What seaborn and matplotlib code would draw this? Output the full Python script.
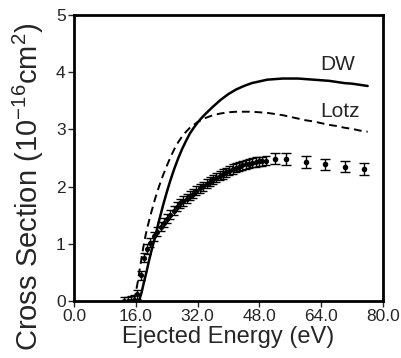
"""
Cross section vs ejected energy: DW and Lotz curves with measured points
"""

import numpy as np
import pandas as pd
import matplotlib
matplotlib.use('Agg')
import matplotlib.pyplot as plt
import seaborn as sns

# DW calculation (solid)
dw_energy = [16.8, 17.5, 18.0, 18.8, 19.5, 20.2, 21.0, 22.0, 23.0, 24.0, 25.0, 26.0,
             27.0, 28.0, 29.0, 30.0, 31.0, 32.0, 33.0, 34.0, 36.0, 38.0, 40.0, 42.0,
             44.0, 46.0, 48.0, 50.0, 52.0, 54.0, 56.0, 58.0, 60.0, 62.0, 64.0, 66.0,
             68.0, 70.0, 72.0, 74.0, 76.0]
dw_cross = [0.0, 0.15, 0.3, 0.52, 0.73, 0.92, 1.12, 1.4, 1.66, 1.9, 2.12, 2.32,
            2.5, 2.66, 2.8, 2.93, 3.03, 3.12, 3.2, 3.27, 3.4, 3.52, 3.62, 3.7,
            3.76, 3.81, 3.84, 3.87, 3.88, 3.89, 3.89, 3.89, 3.88, 3.87, 3.86, 3.85,
            3.83, 3.81, 3.8, 3.78, 3.76]

# Lotz formula (dashed)
lotz_energy = [15.5, 16.0, 16.5, 17.0, 17.5, 18.0, 18.5, 19.0, 20.0, 21.0, 22.0,
               23.0, 24.0, 25.0, 26.0, 27.0, 28.0, 29.0, 30.0, 31.0, 32.0, 34.0,
               36.0, 38.0, 40.0, 42.0, 44.0, 46.0, 48.0, 50.0, 52.0, 54.0, 56.0,
               58.0, 60.0, 62.0, 64.0, 66.0, 68.0, 70.0, 72.0, 74.0, 76.0]
lotz_cross = [0.0, 0.15, 0.33, 0.55, 0.76, 0.96, 1.14, 1.29, 1.55, 1.79, 2.0,
              2.19, 2.36, 2.52, 2.66, 2.78, 2.88, 2.96, 3.03, 3.08, 3.13, 3.2,
              3.25, 3.28, 3.3, 3.31, 3.31, 3.31, 3.3, 3.29, 3.27, 3.25, 3.22,
              3.19, 3.16, 3.14, 3.11, 3.08, 3.06, 3.03, 3.01, 2.98, 2.96]

# measured points, fine scan
fine_energy = [13.0, 13.9, 14.7, 15.6, 16.4, 17.3, 18.1, 19.0, 19.8, 20.7, 21.5,
               22.4, 23.2, 24.1, 24.9, 25.8, 26.6, 27.5, 28.3, 29.2, 30.0, 30.9,
               31.7, 32.6, 33.4, 34.3, 35.1, 36.0, 36.8, 37.7, 38.5, 39.4, 40.2,
               41.1, 41.9, 42.8, 43.6, 44.5, 45.3, 46.2, 47.0, 47.9, 48.7, 49.6]
fine_cross = [0.0, 0.0, 0.01, 0.02, 0.12, 0.45, 0.76, 0.91, 1.02, 1.13, 1.21,
              1.30, 1.37, 1.44, 1.51, 1.58, 1.65, 1.71, 1.75, 1.79, 1.84, 1.88,
              1.93, 1.97, 2.01, 2.05, 2.09, 2.13, 2.16, 2.19, 2.22, 2.25, 2.28,
              2.31, 2.33, 2.35, 2.37, 2.39, 2.40, 2.42, 2.43, 2.44, 2.44, 2.45]
fine_err = 0.08

# measured points, coarse scan
coarse_energy = [52.0, 54.8, 60.0, 65.0, 70.2, 75.1]
coarse_cross = [2.49, 2.48, 2.43, 2.39, 2.35, 2.31]
coarse_err = [0.1, 0.1, 0.1, 0.1, 0.1, 0.1]

x_ticks = [0.0, 16.0, 32.0, 48.0, 64.0, 80.0]
y_ticks = [0, 1, 2, 3, 4, 5]

sns.set_style('ticks')
plt.rcParams['font.family'] = ['Liberation Sans', 'DejaVu Sans']

fig = plt.figure(figsize=(4.02, 3.58), dpi=100)
ax = fig.add_axes([0.184, 0.159, 0.769, 0.799])

dw = pd.DataFrame({'energy': dw_energy, 'cross': dw_cross})
lotz = pd.DataFrame({'energy': lotz_energy, 'cross': lotz_cross})
fine = pd.DataFrame({'energy': fine_energy, 'cross': fine_cross})
coarse = pd.DataFrame({'energy': coarse_energy, 'cross': coarse_cross})

sns.lineplot(data=dw, x='energy', y='cross', color='black', lw=1.8, ax=ax)
sns.lineplot(data=lotz, x='energy', y='cross', color='black', lw=1.4,
             ax=ax, linestyle=(0, (4, 2.5)))

ax.errorbar(fine['energy'], fine['cross'], yerr=fine_err, fmt='none',
            ecolor='black', elinewidth=1.0, capsize=3, capthick=1.0)
ax.errorbar(coarse['energy'], coarse['cross'], yerr=coarse_err, fmt='none',
            ecolor='black', elinewidth=1.0, capsize=3.5, capthick=1.0)
sns.scatterplot(data=fine, x='energy', y='cross', color='black', s=14,
                edgecolor='black', linewidth=0, ax=ax)
sns.scatterplot(data=coarse, x='energy', y='cross', color='black', s=16,
                edgecolor='black', linewidth=0, ax=ax)

ax.text(63.8, 4.13, 'DW', fontsize=15, va='center', ha='left')
ax.text(63.8, 3.31, 'Lotz', fontsize=15, va='center', ha='left')

ax.set_xlim(0, 80)
ax.set_ylim(0, 5)
ax.set_xticks(x_ticks)
ax.set_xticklabels([f'{t:.1f}' for t in x_ticks])
ax.set_yticks(y_ticks)
ax.set_yticklabels([str(t) for t in y_ticks])
ax.tick_params(direction='out', length=4, width=1, labelsize=12.5, pad=2)
ax.set_xlabel('Ejected Energy (eV)', fontsize=17, labelpad=1)
ax.set_ylabel(r'Cross Section (10$^{\mathregular{-16}}$cm$^{\mathregular{2}}$)',
              fontsize=21)
# label sits lower than the axes centre in the original
ax.yaxis.set_label_coords(-0.09, 0.40)
for side in ['top', 'right', 'bottom', 'left']:
    ax.spines[side].set_visible(True)
    ax.spines[side].set_linewidth(2.0)
    ax.spines[side].set_color('black')

fig.savefig('out.png', dpi=100)
